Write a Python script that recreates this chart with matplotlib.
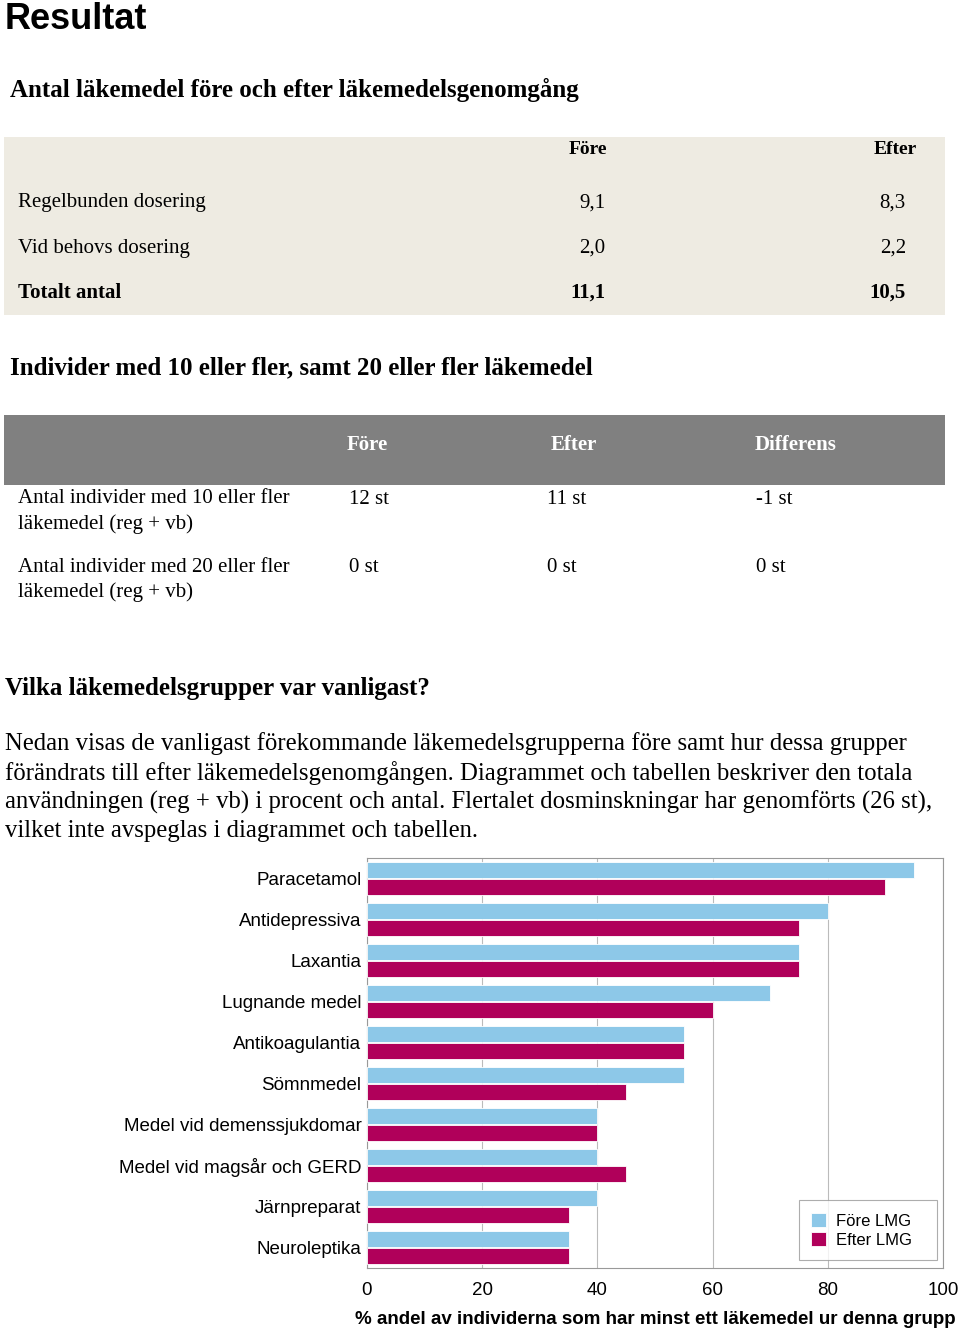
import matplotlib
matplotlib.use("Agg")
import matplotlib.pyplot as plt
from matplotlib.patches import Rectangle

# ---------------- data ----------------
table1_cols = ["Före", "Efter"]
table1_rows = ["Regelbunden dosering", "Vid behovs dosering", "Totalt antal"]
table1_fore = ["9,1", "2,0", "11,1"]
table1_efter = ["8,3", "2,2", "10,5"]

table2_cols = ["Före", "Efter", "Differens"]
table2_rows = ["Antal individer med 10 eller fler\nläkemedel (reg + vb)",
               "Antal individer med 20 eller fler\nläkemedel (reg + vb)"]
table2_fore = ["12 st", "0 st"]
table2_efter = ["11 st", "0 st"]
table2_diff = ["-1 st", "0 st"]

categories = ["Paracetamol", "Antidepressiva", "Laxantia", "Lugnande medel",
              "Antikoagulantia", "Sömnmedel", "Medel vid demenssjukdomar",
              "Medel vid magsår och GERD", "Järnpreparat", "Neuroleptika"]
fore_lmg = [95, 80, 75, 70, 55, 55, 40, 40, 40, 35]
efter_lmg = [90, 75, 75, 60, 55, 45, 40, 45, 35, 35]
xticks = [0, 20, 40, 60, 80, 100]

paragraph = ["Nedan visas de vanligast förekommande läkemedelsgrupperna före samt hur dessa grupper",
             "förändrats till efter läkemedelsgenomgången. Diagrammet och tabellen beskriver den totala",
             "användningen (reg + vb) i procent och antal. Flertalet dosminskningar har genomförts (26 st),",
             "vilket inte avspeglas i diagrammet och tabellen."]

# ---------------- figure ----------------
W, H = 960, 1330
fig = plt.figure(figsize=(W / 100, H / 100), dpi=100)
fig.patch.set_facecolor("white")

SERIF = "Liberation Serif"
SANS = "Liberation Sans"


def fx(x):
    return x / W


def fy(y):
    return 1 - y / H


def txt(x, y, s, size, family=SERIF, weight="normal", ha="left", va="center", color="black", **kw):
    fig.text(fx(x), fy(y), s, fontsize=size, family=family, weight=weight,
             ha=ha, va=va, color=color, **kw)


# Title
txt(5, 29, "Resultat", 26, family=SANS, weight="bold", va="baseline")

# Section 1
txt(10, 90, "Antal läkemedel före och efter läkemedelsgenomgång", 18, weight="bold")
fig.patches.append(Rectangle((fx(4), fy(315)), fx(941), 178 / H, transform=fig.transFigure,
                             facecolor="#EEEBE2", edgecolor="none", zorder=0))
txt(607, 150, table1_cols[0], 14, weight="bold", ha="right")
txt(917, 150, table1_cols[1], 14, weight="bold", ha="right")
row_y = [203, 248, 293]
for i, (lab, a, b) in enumerate(zip(table1_rows, table1_fore, table1_efter)):
    w = "bold" if i == 2 else "normal"
    txt(18, row_y[i], lab, 15, weight=w)
    txt(605, row_y[i], a, 15, weight=w, ha="right")
    txt(906, row_y[i], b, 15, weight=w, ha="right")

# Section 2
txt(10, 368, "Individer med 10 eller fler, samt 20 eller fler läkemedel", 18, weight="bold")
fig.patches.append(Rectangle((fx(4), fy(485)), fx(941), 70 / H, transform=fig.transFigure,
                             facecolor="#808080", edgecolor="none", zorder=0))
for x, c in zip([367, 574, 796], table2_cols):
    txt(x, 445, c, 15, weight="bold", ha="center", color="white")
for i, (lab, a, b, d) in enumerate(zip(table2_rows, table2_fore, table2_efter, table2_diff)):
    y0 = [499, 567][i]
    lines = lab.split("\n")
    txt(18, y0, lines[0], 15)
    txt(18, y0 + 25, lines[1], 15)
    txt(349, y0 + 1, a, 15)
    txt(547, y0 + 1, b, 15)
    txt(756, y0 + 1, d, 15)

# Section 3
txt(5, 688, "Vilka läkemedelsgrupper var vanligast?", 18, weight="bold")
for i, line in enumerate(paragraph):
    txt(5, 744 + i * 29, line, 17.85)

# ---------------- chart ----------------
ax = fig.add_axes([fx(367), fy(1268), 576 / W, 410 / H])
pos = list(range(len(categories)))
off = 0.207
bh = 0.39
ax.barh([p - off for p in pos], fore_lmg, height=bh, color="#8DC8E8",
        edgecolor="white", linewidth=0.6, label="Före LMG", zorder=3)
ax.barh([p + off for p in pos], efter_lmg, height=bh, color="#B0005A",
        edgecolor="white", linewidth=0.6, label="Efter LMG", zorder=3)
ax.set_ylim(9.5, -0.5)
ax.set_xlim(0, 100)
ax.set_yticks(pos)
ax.set_yticklabels(categories, fontsize=13.5, family=SANS)
ax.set_xticks(xticks)
ax.set_xticklabels([str(t) for t in xticks], fontsize=13.5, family=SANS)
ax.tick_params(axis="y", length=0, pad=4)
ax.tick_params(axis="x", length=0, pad=10)
ax.xaxis.grid(True, color="#BBBBBB", linewidth=0.8, zorder=0)
ax.set_axisbelow(True)
for s in ax.spines.values():
    s.set_color("#999999")
    s.set_linewidth(0.8)
ax.set_xlabel("% andel av individerna som har minst ett läkemedel ur denna grupp",
              fontsize=13.5, family=SANS, weight="bold", labelpad=9)
leg = ax.legend(loc="lower left", bbox_to_anchor=(0.75, 0.0195, 0.2396, 0.15), mode="expand",
                frameon=True, fancybox=False,
                prop={"family": SANS, "size": 12}, handlelength=0.9, handleheight=0.9,
                handletextpad=0.6, borderpad=0.75, labelspacing=0.2, borderaxespad=0.0)
leg.get_frame().set_edgecolor("#999999")
leg.get_frame().set_linewidth(0.8)

fig.savefig("out.png", dpi=100, facecolor="white")
